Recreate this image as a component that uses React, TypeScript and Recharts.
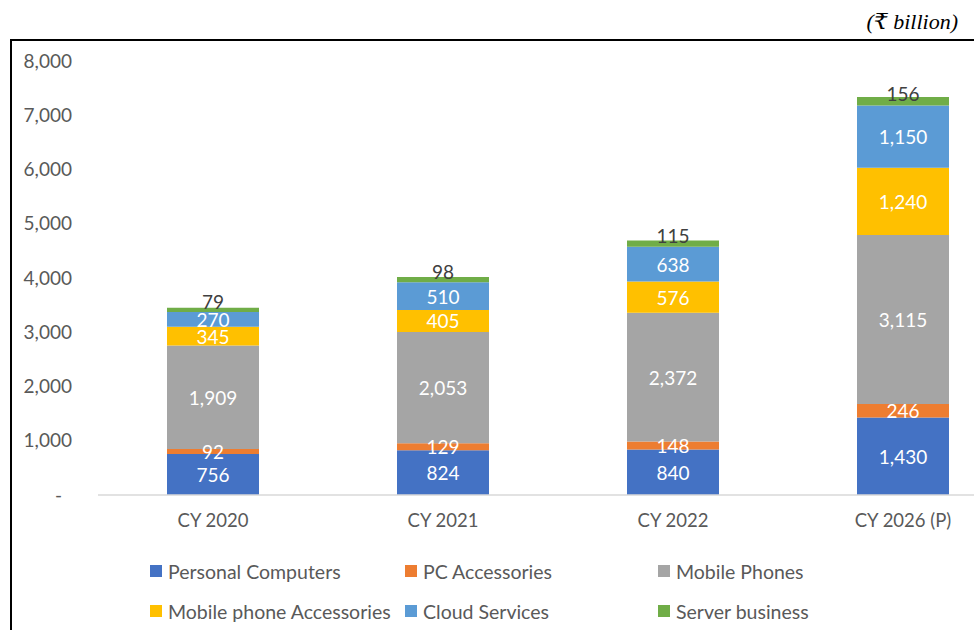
import { BarChart, Bar, XAxis, YAxis, LabelList } from "recharts";

const categories = ["CY 2020", "CY 2021", "CY 2022", "CY 2026 (P)"];
const personalComputers = [756, 824, 840, 1430];
const pcAccessories = [92, 129, 148, 246];
const mobilePhones = [1909, 2053, 2372, 3115];
const mobileAccessories = [345, 405, 576, 1240];
const cloudServices = [270, 510, 638, 1150];
const serverBusiness = [79, 98, 115, 156];
const yTicks = [0, 1000, 2000, 3000, 4000, 5000, 6000, 7000, 8000];

const series = [
  { key: "pc", name: "Personal Computers", color: "#4472C4", values: personalComputers },
  { key: "pcAcc", name: "PC Accessories", color: "#ED7D31", values: pcAccessories },
  { key: "mobile", name: "Mobile Phones", color: "#A5A5A5", values: mobilePhones },
  { key: "mobileAcc", name: "Mobile phone Accessories", color: "#FFC000", values: mobileAccessories },
  { key: "cloud", name: "Cloud Services", color: "#5B9BD5", values: cloudServices },
  { key: "server", name: "Server business", color: "#70AD47", values: serverBusiness },
];

const data = categories.map((cat, i) => {
  const row: Record<string, any> = { category: cat };
  series.forEach((s) => (row[s.key] = s.values[i]));
  return row;
});

const FONT = "Lato, 'Noto Sans', sans-serif";
const fmt = (v: number) => v.toLocaleString("en-US");

const makeLabel = (color: string, dy: number) => (props: any) => {
  const { x, y, width, height, value } = props;
  return (
    <text
      x={x + width / 2}
      y={y + height / 2 + dy}
      fill={color}
      textAnchor="middle"
      dominantBaseline="central"
      fontSize={19}
      fontFamily={FONT}
    >
      {fmt(value)}
    </text>
  );
};

const YTick = (props: any) => {
  const { x, y, payload } = props;
  const zero = payload.value === 0;
  return (
    <text x={zero ? x - 10 : x} y={y} dy="0.35em" textAnchor="end" fill="#595959" fontSize={19} fontFamily={FONT}>
      {zero ? "-" : fmt(payload.value)}
    </text>
  );
};

// legend slots, 3 per row
const legendCols = [150, 405, 658];
const legendRows = [571, 611];

export default function App() {
  return (
    <div style={{ position: "fixed", left: 0, top: 0, width: 974, height: 630, overflow: "hidden", background: "#fff" }}>
      <div
        style={{
          position: "absolute",
          right: 16,
          top: 9,
          fontFamily: "'Liberation Serif', 'DejaVu Serif', serif",
          fontStyle: "italic",
          fontSize: 22,
          color: "#000",
        }}
      >
        (₹ billion)
      </div>
      <div style={{ position: "absolute", left: 10, top: 39, width: 1000, height: 700, borderLeft: "2px solid #000", borderTop: "2px solid #000" }} />
      <div style={{ position: "absolute", left: 0, top: 0 }}>
        <BarChart width={1018} height={630} data={data} margin={{ top: 61, right: 0, left: 0, bottom: 0 }}>
          <XAxis
            dataKey="category"
            height={135}
            tickSize={0}
            tickMargin={19}
            axisLine={{ stroke: "#D9D9D9", strokeWidth: 1.5 }}
            tick={{ fill: "#595959", fontSize: 18.5, fontFamily: FONT }}
          />
          <YAxis
            width={98}
            domain={[0, 8000]}
            ticks={yTicks}
            tickSize={0}
            tickMargin={26}
            axisLine={false}
            tick={<YTick />}
          />
          {series.map((s) => (
            <Bar key={s.key} dataKey={s.key} name={s.name} stackId="a" fill={s.color} barSize={92} isAnimationActive={false}>
              <LabelList
                dataKey={s.key}
                content={s.key === "server" ? makeLabel("#404040", -8) : makeLabel("#FFFFFF", 0)}
              />
            </Bar>
          ))}
        </BarChart>
      </div>
      {series.map((s, i) => (
        <div
          key={s.key}
          style={{
            position: "absolute",
            left: legendCols[i % 3],
            top: legendRows[Math.floor(i / 3)] - 12,
            height: 24,
            display: "flex",
            alignItems: "center",
            fontFamily: FONT,
            fontSize: 19.5,
            color: "#595959",
            whiteSpace: "nowrap",
          }}
        >
          <span style={{ display: "inline-block", width: 12, height: 12, background: s.color, marginRight: 6 }} />
          {s.name}
        </div>
      ))}
    </div>
  );
}
